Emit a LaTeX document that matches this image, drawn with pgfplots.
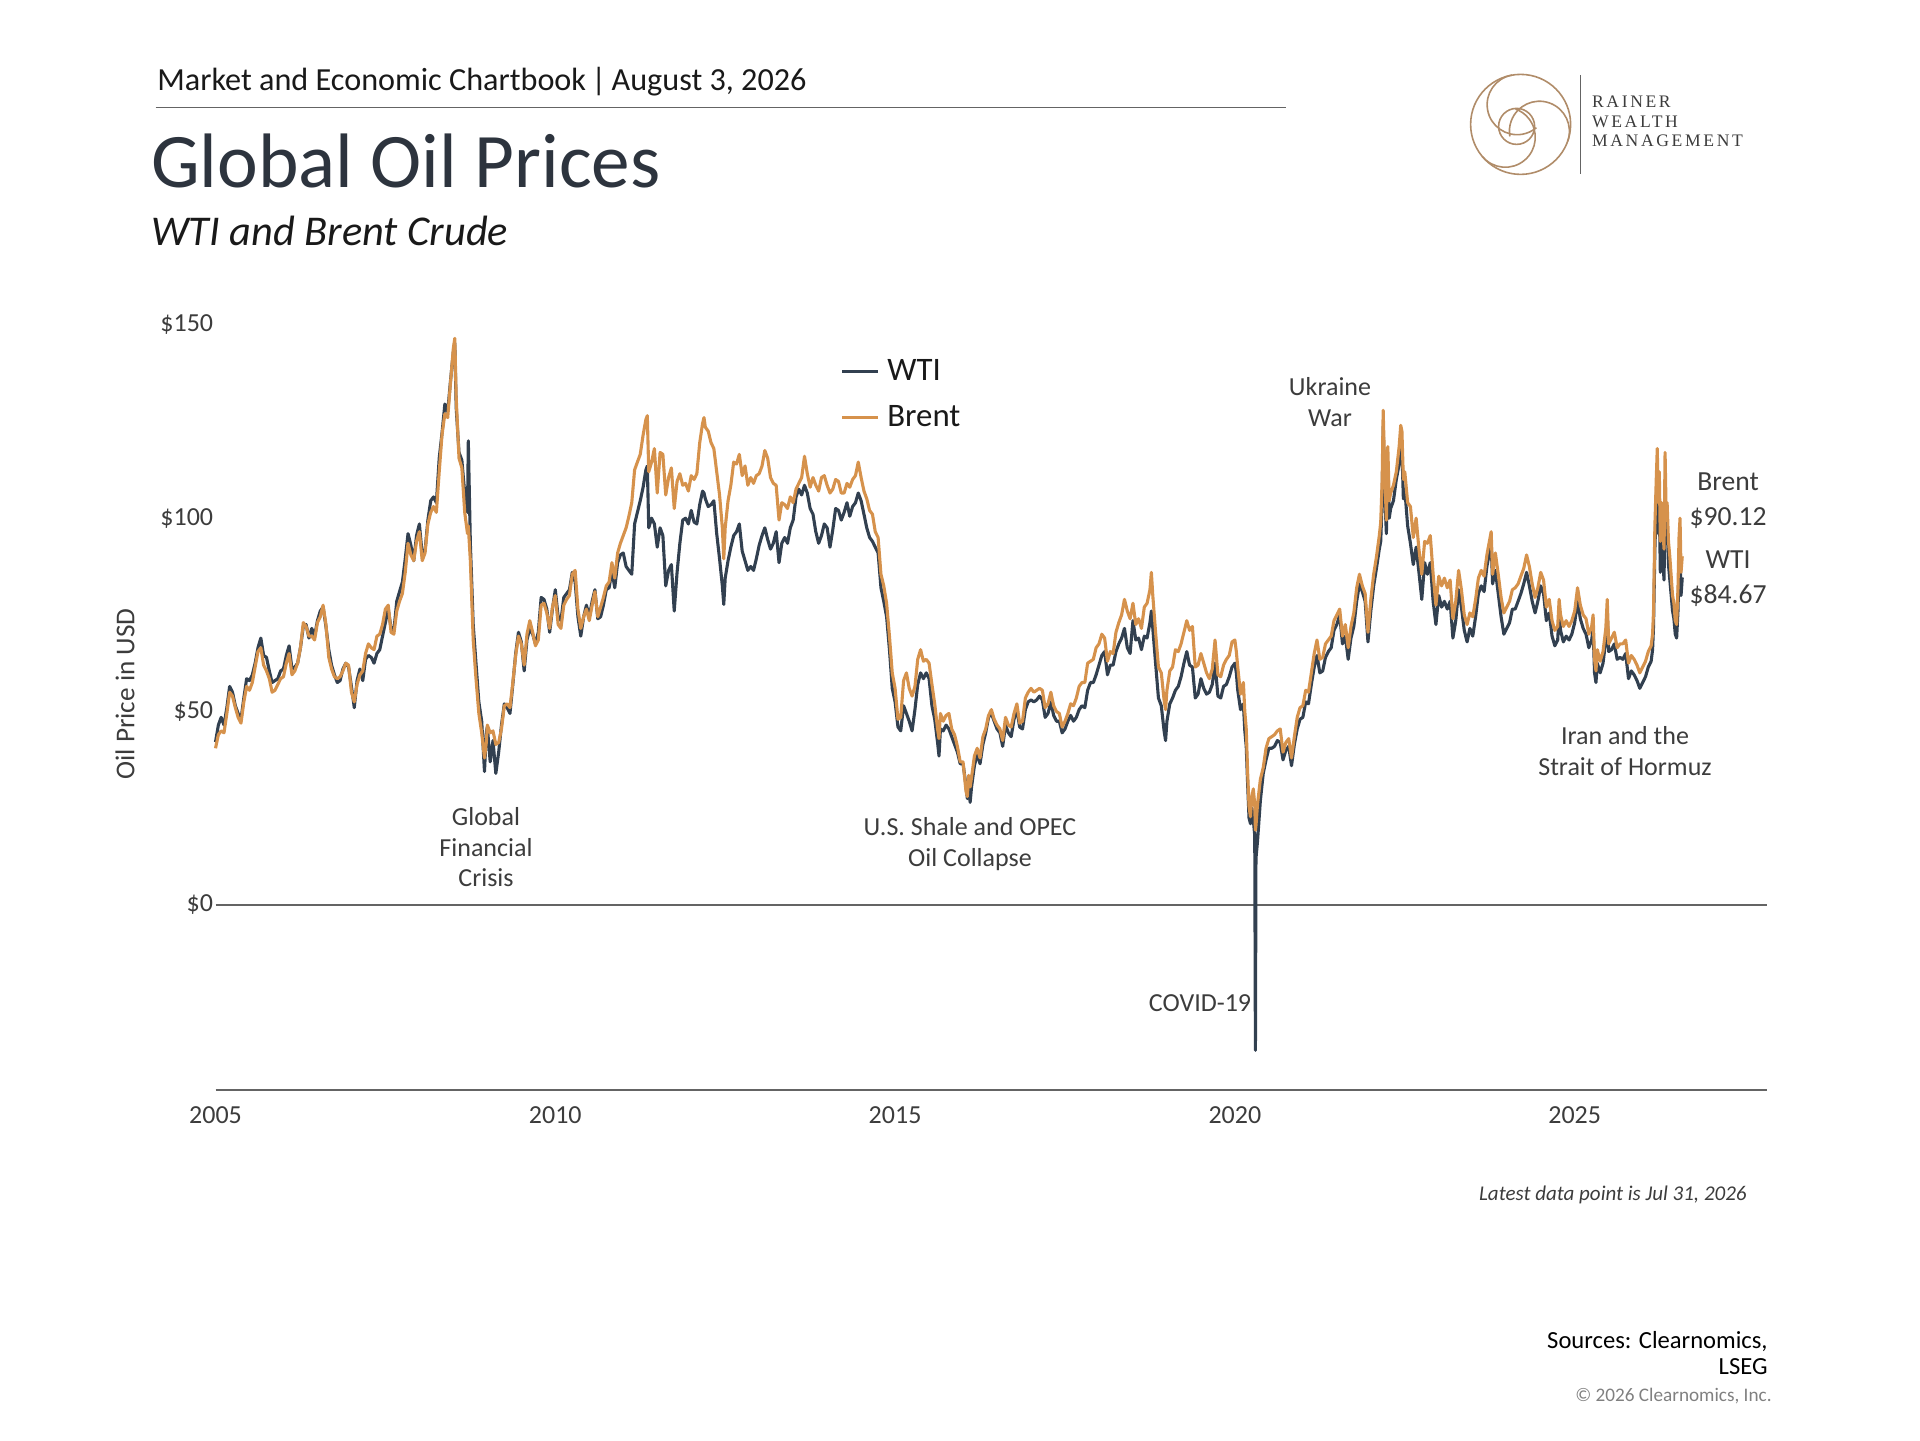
\documentclass[border=0pt]{standalone}
\usepackage{fontspec}
\setmainfont{Carlito}
\newfontfamily\logofont[LetterSpace=15]{Liberation Serif}
\usepackage{pgfplots}
\pgfplotsset{compat=1.18}
\usepackage{pgfplotstable}
\definecolor{wti}{RGB}{50,64,80}
\definecolor{brent}{RGB}{214,146,76}
\definecolor{gold}{RGB}{176,140,105}
\definecolor{titlec}{RGB}{45,52,62}
\definecolor{txt}{RGB}{60,60,60}
\definecolor{axc}{RGB}{100,100,100}

\pgfplotstableread{
x wti brent
2005.000 42.1 40.5
2005.042 46.5 44.0
2005.083 48.5 45.0
2005.125 46.5 44.5
2005.167 51.0 49.5
2005.208 56.5 55.0
2005.250 55.0 54.0
2005.292 51.5 51.0
2005.333 49.5 48.5
2005.375 48.0 47.0
2005.417 53.5 52.5
2005.458 58.5 56.5
2005.500 58.0 55.5
2005.542 59.5 57.5
2005.583 62.5 61.5
2005.625 66.5 65.5
2005.667 69.0 66.5
2005.708 64.5 62.0
2005.750 64.0 60.5
2005.792 60.5 58.5
2005.833 57.5 55.0
2005.875 58.0 55.5
2005.917 58.5 57.0
2005.958 60.5 58.5
2006.000 61.0 59.0
2006.042 64.5 62.5
2006.083 67.0 65.0
2006.125 61.0 59.5
2006.167 61.5 60.5
2006.208 62.5 62.5
2006.250 66.5 66.5
2006.292 72.0 73.0
2006.333 72.5 72.0
2006.375 69.0 69.5
2006.417 71.5 69.5
2006.458 69.5 68.5
2006.500 73.5 73.0
2006.542 76.0 74.5
2006.583 77.0 77.5
2006.625 72.0 72.5
2006.667 66.0 64.0
2006.708 62.0 61.0
2006.750 59.5 59.0
2006.792 57.5 58.5
2006.833 58.0 59.0
2006.875 61.0 60.5
2006.917 62.5 62.5
2006.958 61.5 62.0
2007.000 56.5 55.0
2007.042 51.0 52.5
2007.083 58.0 57.0
2007.125 61.0 59.5
2007.167 58.0 60.5
2007.208 63.5 65.0
2007.250 64.5 67.5
2007.292 64.0 66.5
2007.333 62.5 66.0
2007.375 65.0 69.5
2007.417 66.0 70.0
2007.458 69.5 72.5
2007.500 73.0 76.5
2007.542 76.5 77.5
2007.583 71.5 70.5
2007.625 71.0 70.0
2007.667 78.5 76.0
2007.708 81.0 78.5
2007.750 83.5 80.5
2007.792 89.5 86.0
2007.833 96.0 93.5
2007.875 93.0 90.5
2007.917 89.0 89.0
2007.958 95.5 94.0
2008.000 98.5 96.5
2008.042 90.5 89.0
2008.083 91.5 91.0
2008.125 99.5 98.5
2008.167 104.5 101.5
2008.208 105.5 103.0
2008.250 104.0 101.5
2008.292 115.5 112.0
2008.333 122.0 121.5
2008.375 129.5 127.0
2008.417 127.5 126.0
2008.458 135.5 135.0
2008.500 143.0 144.0
2008.521 145.3 146.5
2008.542 128.5 131.0
2008.583 117.0 115.5
2008.625 115.0 113.0
2008.667 106.5 101.5
2008.708 101.5 96.0
2008.720 120.0 98.0
2008.750 93.5 89.0
2008.792 72.5 68.5
2008.833 62.5 58.5
2008.875 52.5 49.5
2008.917 47.5 44.5
2008.958 34.5 38.0
2008.985 44.6 42.0
2009.000 46.0 46.5
2009.042 37.0 44.5
2009.083 42.5 45.0
2009.125 34.0 41.5
2009.167 39.5 42.0
2009.208 46.5 45.5
2009.250 52.0 51.5
2009.292 51.0 52.0
2009.333 49.5 51.0
2009.375 57.0 57.5
2009.417 65.0 64.5
2009.458 70.5 69.5
2009.500 68.0 67.5
2009.542 60.5 62.0
2009.583 68.5 70.0
2009.625 71.5 73.5
2009.667 70.0 70.5
2009.708 67.5 67.0
2009.750 70.5 68.5
2009.792 79.5 77.5
2009.833 79.0 78.0
2009.875 76.5 75.5
2009.917 70.5 71.5
2009.958 76.5 77.0
2010.000 81.5 80.0
2010.042 74.5 72.5
2010.083 73.5 71.5
2010.125 79.5 77.5
2010.167 80.5 79.0
2010.208 81.5 80.0
2010.250 86.0 85.5
2010.292 83.5 86.5
2010.333 74.5 76.5
2010.375 69.5 71.5
2010.417 74.5 74.5
2010.458 77.5 76.5
2010.500 74.5 73.5
2010.542 78.5 77.5
2010.583 81.5 81.0
2010.625 74.0 74.5
2010.667 74.5 77.0
2010.708 77.5 79.5
2010.750 81.5 82.5
2010.792 82.0 83.5
2010.833 86.5 88.5
2010.875 82.0 84.5
2010.917 88.5 91.0
2010.958 90.5 93.5
2011.000 91.0 95.5
2011.042 87.5 97.5
2011.083 86.5 100.5
2011.125 85.5 104.0
2011.167 98.5 112.5
2011.208 101.5 114.5
2011.250 104.5 116.5
2011.292 108.0 121.5
2011.333 112.5 125.5
2011.354 113.5 126.5
2011.375 97.5 112.0
2011.417 100.0 114.5
2011.458 98.5 118.0
2011.500 92.5 106.5
2011.542 97.5 117.0
2011.583 95.5 116.5
2011.625 82.5 106.0
2011.667 86.5 110.5
2011.708 88.0 113.0
2011.750 76.0 102.5
2011.792 86.0 109.5
2011.833 93.5 111.5
2011.875 99.5 108.5
2011.917 100.0 109.0
2011.958 98.5 107.0
2012.000 102.0 111.0
2012.042 99.0 110.0
2012.083 98.5 111.5
2012.125 103.5 119.5
2012.167 107.0 124.5
2012.188 106.5 126.0
2012.208 105.0 123.5
2012.250 103.0 122.5
2012.292 103.5 119.5
2012.333 104.5 118.0
2012.375 96.0 112.0
2012.417 89.5 106.0
2012.458 82.5 97.5
2012.479 77.7 89.5
2012.500 84.5 97.5
2012.542 89.0 104.5
2012.583 92.5 108.5
2012.625 95.5 114.5
2012.667 96.5 114.0
2012.708 98.5 116.5
2012.750 91.5 111.0
2012.792 89.0 113.5
2012.833 86.5 108.5
2012.875 87.5 110.5
2012.917 86.5 109.0
2012.958 89.5 111.0
2013.000 93.0 111.5
2013.042 95.5 113.5
2013.083 97.5 117.5
2013.125 94.5 115.5
2013.167 92.0 110.5
2013.208 93.5 109.0
2013.250 96.5 108.5
2013.292 88.5 99.5
2013.333 93.5 104.0
2013.375 95.0 103.5
2013.417 93.5 102.5
2013.458 97.5 105.5
2013.500 99.5 104.0
2013.542 105.5 107.5
2013.583 107.5 109.0
2013.625 106.0 110.5
2013.667 108.5 116.0
2013.708 106.5 111.5
2013.750 102.5 108.0
2013.792 101.0 110.5
2013.833 96.5 108.5
2013.875 93.5 107.0
2013.917 95.5 110.5
2013.958 98.5 111.0
2014.000 97.5 108.5
2014.042 92.5 106.5
2014.083 97.0 107.5
2014.125 102.5 110.0
2014.167 102.0 109.5
2014.208 99.5 106.5
2014.250 101.5 106.5
2014.292 104.0 109.0
2014.333 100.5 108.0
2014.375 103.0 110.0
2014.417 104.0 111.0
2014.458 106.5 114.5
2014.500 104.5 110.5
2014.542 101.0 107.0
2014.583 97.5 105.0
2014.625 95.0 102.0
2014.667 94.0 101.0
2014.708 92.5 96.5
2014.750 91.0 95.0
2014.792 82.0 85.5
2014.833 78.5 82.5
2014.875 74.5 78.0
2014.917 66.0 69.5
2014.958 56.0 60.0
2015.000 52.5 56.0
2015.042 46.0 48.0
2015.083 45.0 48.5
2015.125 51.5 58.0
2015.167 49.5 60.0
2015.208 47.5 56.0
2015.250 45.0 54.0
2015.292 50.5 56.5
2015.333 57.0 63.5
2015.375 60.0 66.0
2015.417 58.5 63.0
2015.458 60.0 63.5
2015.500 58.5 62.5
2015.542 51.5 57.0
2015.583 48.0 52.0
2015.625 42.0 45.5
2015.646 38.5 43.0
2015.667 45.5 49.5
2015.708 45.0 47.5
2015.750 46.5 49.0
2015.792 45.5 49.5
2015.833 43.5 45.5
2015.875 41.5 44.0
2015.917 39.5 41.0
2015.958 36.5 37.0
2016.000 36.5 37.0
2016.042 31.0 29.5
2016.063 27.5 28.0
2016.083 32.0 33.5
2016.104 26.5 30.5
2016.125 30.5 33.0
2016.167 36.0 38.5
2016.208 39.0 40.5
2016.250 36.5 38.0
2016.292 41.5 43.5
2016.333 44.5 45.5
2016.375 48.5 49.0
2016.417 49.5 50.5
2016.458 47.5 48.0
2016.500 45.5 46.5
2016.542 44.5 45.5
2016.583 41.0 42.5
2016.625 46.5 48.5
2016.667 44.5 46.5
2016.708 43.5 46.0
2016.750 48.0 49.5
2016.792 50.5 52.0
2016.833 46.0 47.0
2016.875 45.5 47.5
2016.917 50.5 53.5
2016.958 52.5 55.0
2017.000 53.0 56.0
2017.042 52.5 55.0
2017.083 53.0 55.5
2017.125 54.0 56.0
2017.167 53.0 55.5
2017.208 48.5 51.0
2017.250 49.5 52.0
2017.292 52.5 55.0
2017.333 49.0 51.5
2017.375 47.5 50.0
2017.417 47.5 49.5
2017.458 44.5 46.0
2017.500 45.5 47.5
2017.542 47.5 49.5
2017.583 49.0 52.0
2017.625 47.5 51.5
2017.667 48.5 53.5
2017.708 50.5 56.5
2017.750 51.5 57.5
2017.792 51.0 57.5
2017.833 55.5 62.5
2017.875 57.5 63.0
2017.917 57.5 63.5
2017.958 59.5 66.5
2018.000 62.0 67.5
2018.042 64.5 70.0
2018.083 65.5 69.0
2018.125 59.5 63.0
2018.167 62.0 65.5
2018.208 62.0 65.0
2018.250 65.5 70.5
2018.292 67.5 73.0
2018.333 69.0 75.0
2018.375 71.5 79.0
2018.417 66.5 76.0
2018.458 65.0 74.0
2018.500 73.5 78.0
2018.542 68.5 72.5
2018.583 69.0 74.0
2018.625 66.0 71.5
2018.667 69.5 77.0
2018.708 69.0 78.0
2018.750 73.0 81.5
2018.771 76.0 86.0
2018.792 71.5 80.0
2018.833 62.5 70.5
2018.875 53.5 61.5
2018.917 51.5 60.0
2018.958 45.0 53.0
2018.980 42.5 50.5
2019.000 47.5 55.5
2019.042 52.0 60.5
2019.083 53.5 61.5
2019.125 55.5 66.0
2019.167 56.5 65.5
2019.208 59.0 67.5
2019.250 62.5 70.5
2019.292 65.5 73.5
2019.333 62.0 71.0
2019.375 61.5 72.0
2019.417 53.5 61.5
2019.458 54.5 62.0
2019.500 58.5 65.0
2019.542 56.0 62.5
2019.583 54.5 60.0
2019.625 55.0 58.5
2019.667 57.0 61.0
2019.708 62.5 68.5
2019.750 54.0 59.5
2019.792 53.5 59.0
2019.833 56.5 62.0
2019.875 57.0 63.5
2019.917 59.0 64.5
2019.958 61.5 68.0
2020.000 62.5 68.5
2020.021 60.0 65.5
2020.042 55.5 61.5
2020.083 50.5 54.5
2020.125 52.0 57.5
2020.146 45.0 50.0
2020.167 41.0 45.5
2020.188 31.0 34.0
2020.208 22.5 25.5
2020.229 21.0 22.8
2020.250 25.0 28.0
2020.271 22.0 30.0
2020.292 18.0 26.0
2020.302 -37.6 19.3
2020.310 12.0 20.5
2020.333 16.5 26.0
2020.375 27.0 32.5
2020.417 34.0 35.5
2020.458 37.5 40.5
2020.500 40.5 43.0
2020.542 40.5 43.5
2020.583 41.0 44.0
2020.625 42.5 45.0
2020.667 42.0 45.5
2020.708 37.5 39.5
2020.750 40.0 42.0
2020.792 41.0 43.0
2020.833 36.0 38.0
2020.875 41.5 43.5
2020.917 45.5 48.5
2020.958 48.0 51.0
2021.000 48.5 51.5
2021.042 52.5 55.5
2021.083 52.0 55.0
2021.125 57.0 60.0
2021.167 61.5 65.0
2021.208 64.5 68.5
2021.250 60.0 63.5
2021.292 60.5 64.0
2021.333 64.0 67.5
2021.375 65.5 68.5
2021.417 66.5 69.5
2021.458 71.0 73.5
2021.500 72.5 75.0
2021.542 75.0 76.5
2021.583 67.5 69.5
2021.625 69.5 72.5
2021.667 63.5 66.5
2021.708 69.0 72.0
2021.750 72.0 75.5
2021.792 78.5 82.0
2021.833 83.0 85.5
2021.875 81.0 82.5
2021.917 78.5 80.5
2021.958 68.0 70.5
2022.000 76.0 79.0
2022.042 82.5 85.5
2022.083 87.0 90.0
2022.125 92.0 95.5
2022.146 94.0 99.0
2022.167 105.0 110.0
2022.182 123.7 127.9
2022.208 105.0 110.0
2022.229 96.0 99.5
2022.250 112.0 118.5
2022.271 100.0 104.5
2022.292 102.5 106.5
2022.333 104.5 108.5
2022.375 110.0 112.0
2022.417 114.0 118.5
2022.440 120.5 124.0
2022.458 117.5 122.5
2022.479 105.0 110.0
2022.500 107.5 112.0
2022.542 98.0 104.0
2022.583 93.5 103.0
2022.625 88.0 95.0
2022.667 92.5 100.0
2022.708 86.0 92.0
2022.750 79.0 85.5
2022.792 88.5 94.0
2022.833 85.5 93.5
2022.875 88.5 95.5
2022.917 78.5 85.5
2022.958 72.5 77.5
2023.000 80.0 85.0
2023.042 77.0 82.5
2023.083 78.5 84.5
2023.125 76.5 82.0
2023.167 78.5 84.0
2023.208 69.0 74.0
2023.250 73.5 78.5
2023.292 81.5 86.5
2023.333 77.0 81.5
2023.375 71.0 75.0
2023.417 68.0 72.5
2023.458 71.5 75.5
2023.500 69.5 74.5
2023.542 74.5 79.0
2023.583 80.5 84.5
2023.625 82.5 86.5
2023.667 81.0 85.0
2023.708 87.5 90.5
2023.750 91.5 94.5
2023.771 93.5 96.5
2023.792 83.0 85.5
2023.833 86.5 91.0
2023.875 80.5 85.5
2023.917 74.5 79.5
2023.958 70.0 75.5
2024.000 71.5 77.0
2024.042 73.0 78.5
2024.083 76.5 81.5
2024.125 76.5 82.0
2024.167 78.5 83.0
2024.208 80.5 85.0
2024.250 83.0 87.0
2024.292 86.0 90.5
2024.333 82.5 87.5
2024.375 78.5 83.0
2024.417 75.5 79.5
2024.458 78.5 82.0
2024.500 82.5 86.0
2024.542 80.5 84.0
2024.583 73.5 77.0
2024.625 75.5 79.0
2024.667 69.5 73.5
2024.708 67.0 71.0
2024.750 68.5 72.0
2024.771 75.5 79.0
2024.792 71.0 75.0
2024.833 68.0 72.0
2024.875 69.5 73.5
2024.917 68.5 72.0
2024.958 70.0 73.5
2025.000 73.0 76.0
2025.042 78.5 82.0
2025.083 74.0 77.5
2025.125 71.5 75.0
2025.167 70.0 74.0
2025.208 66.5 70.0
2025.250 68.5 72.0
2025.271 71.5 75.0
2025.292 60.0 63.5
2025.313 57.5 60.5
2025.333 62.5 66.0
2025.375 60.0 63.0
2025.417 62.5 65.5
2025.458 68.5 71.5
2025.479 75.0 79.0
2025.500 65.5 67.5
2025.542 66.0 69.0
2025.583 67.5 70.5
2025.625 63.5 66.5
2025.667 64.0 67.5
2025.708 63.5 67.5
2025.750 65.0 68.5
2025.792 58.5 62.5
2025.833 60.5 64.5
2025.875 59.5 63.5
2025.917 58.0 62.0
2025.958 56.0 60.0
2026.000 57.5 61.5
2026.042 59.0 63.0
2026.083 61.5 65.5
2026.125 63.0 67.0
2026.146 66.0 70.0
2026.160 72.0 76.0
2026.180 92.0 98.0
2026.200 104.0 110.0
2026.215 113.0 118.0
2026.230 96.0 104.0
2026.245 104.0 112.0
2026.260 86.0 94.0
2026.280 96.0 104.0
2026.300 88.0 96.0
2026.315 84.0 92.0
2026.330 108.0 117.0
2026.345 94.0 102.0
2026.360 98.0 104.0
2026.380 88.0 94.0
2026.400 84.0 90.0
2026.420 80.0 85.0
2026.440 76.0 80.0
2026.460 74.0 78.0
2026.480 70.0 73.5
2026.500 69.0 72.5
2026.520 76.0 82.0
2026.535 88.0 95.0
2026.550 92.0 100.0
2026.565 80.0 86.0
2026.583 84.67 90.12
}\oil

\begin{document}
\begin{tikzpicture}
\path (0,0) rectangle (960pt,720pt);
% header
\node[anchor=base west, inner sep=0pt, text=black!90] at (78.5pt,674.7pt) {\fontsize{16.1}{19}\selectfont Market and Economic Chartbook\,|\,August 3, 2026};
\draw[axc, line width=0.7pt] (77.75pt,666.1pt) -- (643pt,666.1pt);
\node[anchor=base west, inner sep=0pt, text=titlec] at (75.3pt,626.3pt) {\fontsize{38.6}{44}\selectfont Global Oil Prices};
\node[anchor=base west, inner sep=0pt, text=black!90] at (75.3pt,597pt) {\fontsize{21.2}{25}\selectfont\itshape WTI and Brent Crude};
% logo
\begin{scope}[shift={(760.3pt,657.8pt)}, gold, line width=0.8pt]
\draw (0pt,0pt) circle (25pt);
\foreach \a in {100,220,340}{
  \draw (\a:25pt) arc[start angle=\a, end angle=\a+210, radius=15pt];
}
\draw (-2pt,-1pt) circle (9pt);
\end{scope}
\draw[axc, line width=0.8pt] (790.3pt,682.5pt) -- (790.3pt,633pt);
\node[anchor=base west, inner sep=0pt, text=txt] at (795.8pt,666.35pt) {\logofont\fontsize{8.8}{10}\selectfont RAINER};
\node[anchor=base west, inner sep=0pt, text=txt] at (795.8pt,656.35pt) {\logofont\fontsize{8.8}{10}\selectfont WEALTH};
\node[anchor=base west, inner sep=0pt, text=txt] at (795.8pt,646.65pt) {\logofont\fontsize{8.8}{10}\selectfont MANAGEMENT};
% y label
\node[rotate=90, text=txt, inner sep=0pt] at (62.5pt,373pt) {\fontsize{13.6}{15}\selectfont Oil Price in USD};

\begin{axis}[
  at={(107.75pt,175.1pt)}, anchor=south west,
  scale only axis, width=775.75pt, height=382.5pt,
  xmin=2005, xmax=2027.83, ymin=-47.8, ymax=150,
  axis x line*=bottom, axis y line*=left,
  x axis line style={axc, line width=1pt},
  y axis line style={draw=none},
  major tick length=0pt,
  xtick={2005,2010,2015,2020,2025},
  xticklabels={2005,2010,2015,2020,2025},
  ytick={0,50,100,150},
  yticklabels={\$0,\$50,\$100,\$150},
  tick label style={font=\fontsize{13}{15}\selectfont, text=txt},
  yticklabel style={inner sep=1pt},
  xticklabel style={yshift=-5pt},
  clip=false,
  legend style={draw=none, fill=none, at={(0.399,0.963)}, anchor=north west,
    font=\fontsize{16.4}{19}\selectfont, text=black!90, row sep=9pt,
    nodes={inner sep=1pt}},
  legend cell align=left,
  legend image code/.code={\draw[#1, line width=1.2pt] (0pt,0pt) -- (18pt,0pt);},
]
\addplot[axc, line width=0.8pt, forget plot] coordinates {(2005,0) (2027.83,0)};
\addplot[wti, line width=1.55pt, line join=round] table[x=x,y=wti]{\oil};
\addplot[brent, line width=1.55pt, line join=round] table[x=x,y=brent]{\oil};
\legend{\hspace{3pt}WTI,\hspace{3pt}Brent}
\end{axis}

% annotations
\begin{scope}[every node/.style={text=txt, align=center, inner sep=0pt, font=\fontsize{13}{15.3}\selectfont}]
\node at (243pt,296.3pt) {Global\\Financial\\Crisis};
\node at (485pt,297.85pt) {U.S. Shale and OPEC\\Oil Collapse};
\node[anchor=east] at (625.75pt,218.5pt) {COVID-19};
\node at (665pt,518.85pt) {Ukraine\\War};
\node at (812.5pt,344.4pt) {Iran and the\\Strait of Hormuz};
\node[font=\fontsize{13.8}{17.2}\selectfont] at (864pt,469.6pt) {Brent\\\$90.12};
\node[font=\fontsize{13.8}{17.5}\selectfont] at (864pt,430.75pt) {WTI\\\$84.67};
\end{scope}
\node[anchor=east, inner sep=0pt, text=txt] at (873.5pt,122.5pt) {\fontsize{10.5}{13}\selectfont\itshape Latest data point is Jul 31, 2026};
\node[anchor=east, align=right, inner sep=0pt, text=black, font=\fontsize{12.3}{12.75}\selectfont] at (884pt,43.6pt) {Sources: Clearnomics,\\LSEG};
\node[anchor=east, inner sep=0pt, text=gray] at (886pt,22pt) {\fontsize{9.6}{12}\selectfont \textcopyright\ 2026 Clearnomics, Inc.};
\end{tikzpicture}
\end{document}
